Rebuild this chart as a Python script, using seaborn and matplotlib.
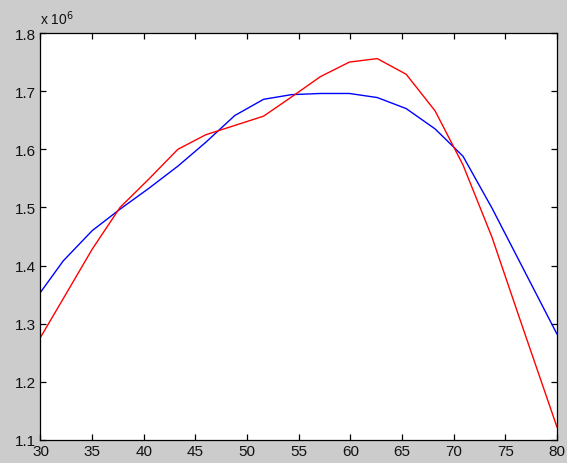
import matplotlib
matplotlib.use("Agg")
import matplotlib.pyplot as plt
import seaborn as sns
import pandas as pd
import numpy as np

x = [30, 32.2, 35.0, 37.7, 40.5, 43.3, 46.0, 48.8, 51.6, 54.3, 57.1, 59.9,
     62.6, 65.4, 68.2, 70.9, 73.7, 76.4, 80]
blue = [1.354, 1.408, 1.460, 1.497, 1.533, 1.571, 1.612, 1.658, 1.686, 1.694,
        1.696, 1.696, 1.689, 1.670, 1.635, 1.588, 1.499, 1.406, 1.282]
red = [1.2765, 1.343, 1.428, 1.500, 1.549, 1.600, 1.625, 1.641, 1.657, 1.690,
       1.725, 1.750, 1.756, 1.729, 1.666, 1.573, 1.449, 1.308, 1.122]
xticks = [30, 35, 40, 45, 50, 55, 60, 65, 70, 75, 80]
yticks = [1.1, 1.2, 1.3, 1.4, 1.5, 1.6, 1.7, 1.8]
scale = 1e6

df = pd.DataFrame({
    "x": x + x,
    "y": [v * scale for v in blue] + [v * scale for v in red],
    "series": ["blue"] * len(x) + ["red"] * len(x),
})

sns.set_theme(style="ticks")
plt.rcParams["font.family"] = ["Liberation Sans", "DejaVu Sans"]

fig = plt.figure(figsize=(5.67, 4.64), dpi=100, facecolor="#cccccc")
ax = fig.add_axes([0.0714, 0.0496, 0.9824 - 0.0714, 0.9267 - 0.0496])
ax.set_facecolor("white")

sns.lineplot(data=df, x="x", y="y", hue="series",
             palette={"blue": "#0000ff", "red": "#ff0000"},
             linewidth=1.0, legend=False, ax=ax, sort=False)

ax.set_xlim(30, 80)
ax.set_ylim(1.1 * scale, 1.8 * scale)
ax.set_xticks(xticks)
ax.set_xticklabels([str(t) for t in xticks])
ax.set_yticks([t * scale for t in yticks])
ax.set_yticklabels([f"{t:.1f}" for t in yticks])
ax.set_xlabel("")
ax.set_ylabel("")

for s in ax.spines.values():
    s.set_visible(True)
    s.set_color("black")
    s.set_linewidth(0.9)

ax.tick_params(axis="both", which="major", direction="in", length=4,
               width=0.9, color="black", labelsize=11, labelcolor="#111111",
               top=True, right=True, pad=3)

ax.annotate("x 10$^6$", xy=(0, 1), xycoords="axes fraction",
            xytext=(0, 4), textcoords="offset points",
            ha="left", va="bottom", fontsize=10, color="#111111")

fig.savefig("out.png", dpi=100, facecolor=fig.get_facecolor())
